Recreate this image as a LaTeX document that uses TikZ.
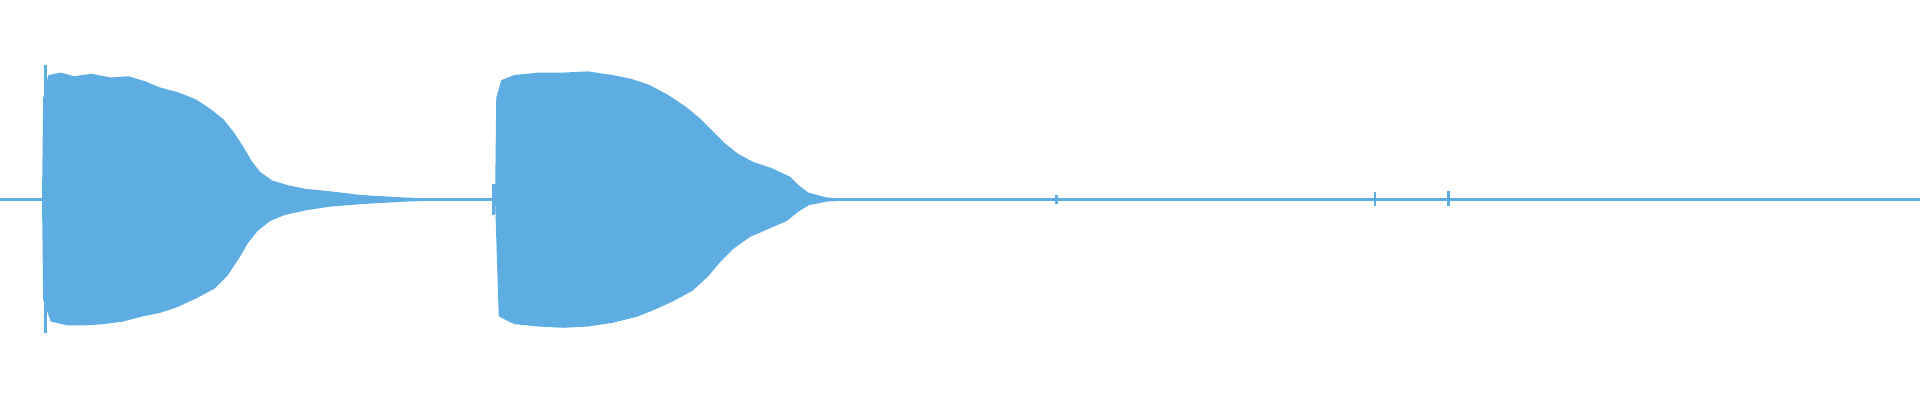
\documentclass[tikz,border=0pt]{standalone}
\usetikzlibrary{positioning}
\definecolor{wave}{RGB}{93,173,226}
\tikzset{%
	% styles for the waveform
	axisline/.style = {draw=wave, line width=0.5pt},
	burst/.style = {fill=wave, draw=wave, line width=0.4pt, line join=round},
	spike/.style = {draw=wave, line width=0.6pt}
}
\begin{document}
\begin{tikzpicture}[x=0.1mm, y=-0.1mm]
	\useasboundingbox (0,0) rectangle (1568,327);
	\coordinate (leftEnd) at (0,163);
	\coordinate (rightEnd) at (1568,163);
	\draw[axisline] (leftEnd) -- (rightEnd);
	% first burst
	\path[burst] (35,163) -- (36,80) -- (40,62) -- (50,60) -- (60,63) -- (75,61) -- (90,64) -- (105,63)
		-- (118,67) -- (130,72) -- (145,76) -- (160,82) -- (172,90) -- (182,98) -- (190,108)
		-- (198,120) -- (205,132) -- (212,141) -- (222,148) -- (235,152) -- (250,155)
		-- (270,157) -- (295,160) -- (330,162) -- (360,163)
		-- (330,164) -- (295,166) -- (270,168) -- (250,171) -- (232,175) -- (220,180)
		-- (210,188) -- (202,198) -- (195,210) -- (185,225) -- (175,235) -- (160,243)
		-- (145,250) -- (130,255) -- (115,258) -- (100,262) -- (85,264) -- (70,265)
		-- (55,265) -- (42,262) -- (36,245) -- cycle;
	\draw[spike] (37,53) -- (37,272);
	% second burst
	\path[burst] (405,163) -- (406,80) -- (410,66) -- (420,62) -- (440,60) -- (460,60) -- (480,59)
		-- (500,62) -- (515,65) -- (530,70) -- (545,78) -- (560,88) -- (572,98) -- (582,108)
		-- (592,118) -- (602,126) -- (615,133) -- (630,138) -- (645,145) -- (652,152)
		-- (660,158) -- (675,162) -- (690,163)
		-- (675,164) -- (660,167) -- (652,172) -- (642,180) -- (628,186) -- (612,193)
		-- (598,203) -- (588,213) -- (578,225) -- (565,237) -- (550,245) -- (535,252)
		-- (520,258) -- (500,263) -- (480,266) -- (460,267) -- (440,266) -- (420,264)
		-- (408,258) -- cycle;
	\draw[spike] (403,150) -- (403,176);
	% small noise spikes
	\draw[spike] (863,159) -- (863,167);
	\draw[spike] (1123,157) -- (1123,168);
	\draw[spike] (1183,156) -- (1183,168);
\end{tikzpicture}
\end{document}
